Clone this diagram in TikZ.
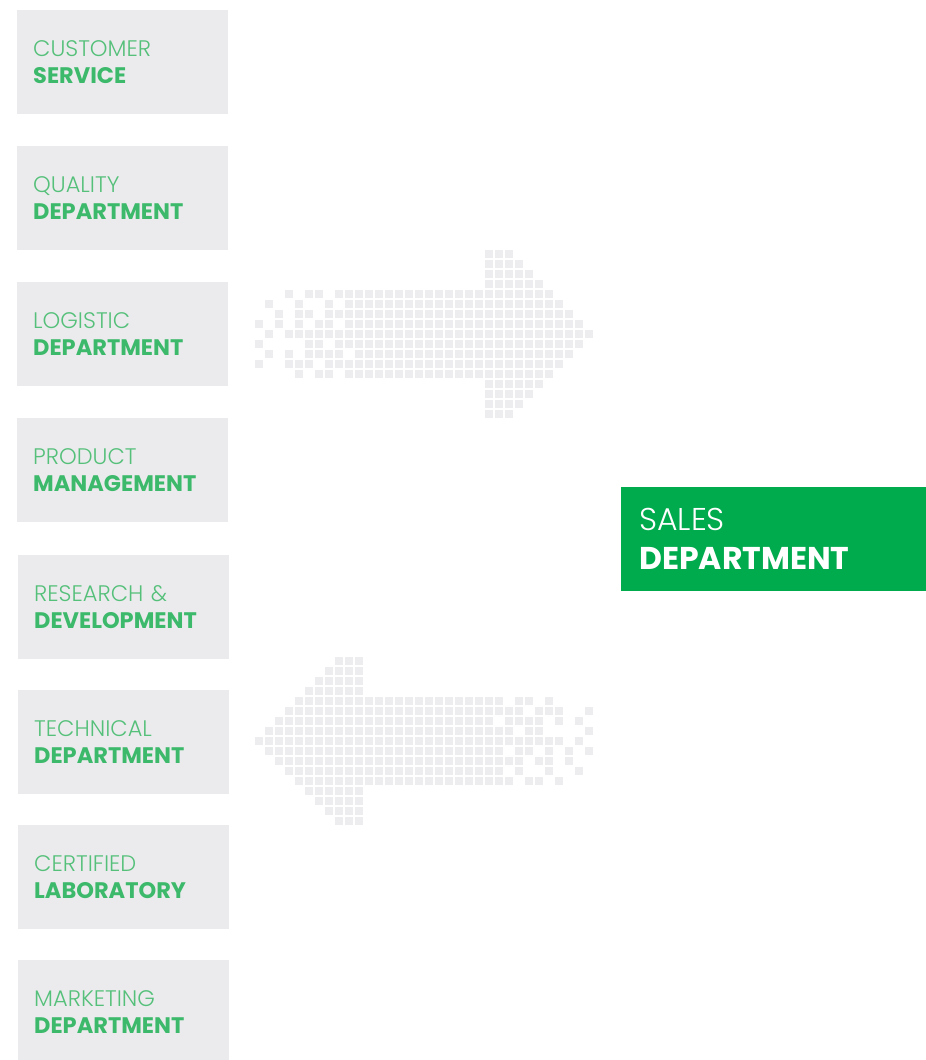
\documentclass[tikz,border=0pt]{standalone}
\usepackage{fontspec}
\setmainfont{Poppins}
\IfFontExistsTF{Poppins Light}{\newfontfamily\thinfont{Poppins Light}}{\newfontfamily\thinfont{Poppins}}
\usepackage{xcolor}
\usepackage{tikz}
\usetikzlibrary{positioning}

\definecolor{boxgray}{HTML}{EBEBED}
\definecolor{pixgray}{HTML}{EDEDEF}
\definecolor{deptgreen}{HTML}{3DB96B}
\definecolor{lightgreen}{HTML}{55C07A}
\definecolor{salesgreen}{HTML}{00AB4E}

\begin{document}
\begin{tikzpicture}[x=1pt, y=-1pt,
  deptbox/.style={fill=boxgray, anchor=north west, minimum height=104pt, text width=179pt, inner xsep=16pt, inner ysep=0pt, align=left, text=deptgreen, font=\fontsize{22.5}{27}\selectfont},
  salesbox/.style={fill=salesgreen, anchor=north west, minimum height=104pt, text width=269pt, inner xsep=18pt, inner ysep=0pt, align=left, text=white, font=\fontsize{31.5}{39}\selectfont},
  pixel/.style={fill=pixgray}]

\useasboundingbox (0,0) rectangle (926,1060);

\node[deptbox] (service) at (17,10) {\textcolor{lightgreen}{\thinfont CUSTOMER}\\\textbf{SERVICE}};
\node[deptbox] (quality) at (17,146) {\textcolor{lightgreen}{\thinfont QUALITY}\\\textbf{DEPARTMENT}};
\node[deptbox] (logistic) at (17,282) {\textcolor{lightgreen}{\thinfont LOGISTIC}\\\textbf{DEPARTMENT}};
\node[deptbox] (product) at (17,418) {\textcolor{lightgreen}{\thinfont PRODUCT}\\\textbf{MANAGEMENT}};
\node[deptbox] (research) at (18,555) {\textcolor{lightgreen}{\thinfont RESEARCH \&}\\\textbf{DEVELOPMENT}};
\node[deptbox] (technical) at (18,690) {\textcolor{lightgreen}{\thinfont TECHNICAL}\\\textbf{DEPARTMENT}};
\node[deptbox] (laboratory) at (18,825) {\textcolor{lightgreen}{\thinfont CERTIFIED}\\\textbf{LABORATORY}};
\node[deptbox] (marketing) at (18,960) {\textcolor{lightgreen}{\thinfont MARKETING}\\\textbf{DEPARTMENT}};

\node[salesbox] (sales) at (621,487) {{\thinfont SALES}\\\textbf{DEPARTMENT}};

\foreach \r/\a/\b in {0/23/25, 1/23/26, 2/23/27, 3/23/28,
    4/3/3, 4/5/6, 4/8/29,
    5/1/1, 5/4/4, 5/7/7, 5/9/30,
    6/2/2, 6/4/5, 6/7/31,
    7/0/0, 7/2/2, 7/4/4, 7/6/7, 7/9/32,
    8/1/1, 8/3/33,
    9/0/0, 9/5/6, 9/8/32,
    10/1/1, 10/3/3, 10/5/8, 10/10/31,
    11/0/0, 11/3/5, 11/7/30,
    12/4/4, 12/6/7, 12/9/29,
    13/23/28, 14/23/27, 15/23/26, 16/23/25} {
  \foreach \c in {\a,...,\b}
    \fill[pixel] (255+10*\c, 250+10*\r) rectangle ++(8,8);
}

\foreach \r/\a/\b in {0/8/10, 1/7/10, 2/6/10, 3/5/10,
    4/4/24, 4/26/27, 4/29/29,
    5/3/26, 5/28/30, 5/33/33,
    6/2/23, 6/25/28, 6/30/30, 6/32/32,
    7/1/25, 7/27/28, 7/33/33,
    8/0/30, 8/32/32,
    9/1/24, 9/26/27, 9/29/29, 9/31/31, 9/33/33,
    10/2/26, 10/28/29, 10/31/31,
    11/3/24, 11/26/26, 11/29/29, 11/32/32,
    12/4/25, 12/27/28, 12/30/30,
    13/5/10, 14/6/10, 15/7/10, 16/8/10} {
  \foreach \c in {\a,...,\b}
    \fill[pixel] (255+10*\c, 657+10*\r) rectangle ++(8,8);
}

\end{tikzpicture}
\end{document}
